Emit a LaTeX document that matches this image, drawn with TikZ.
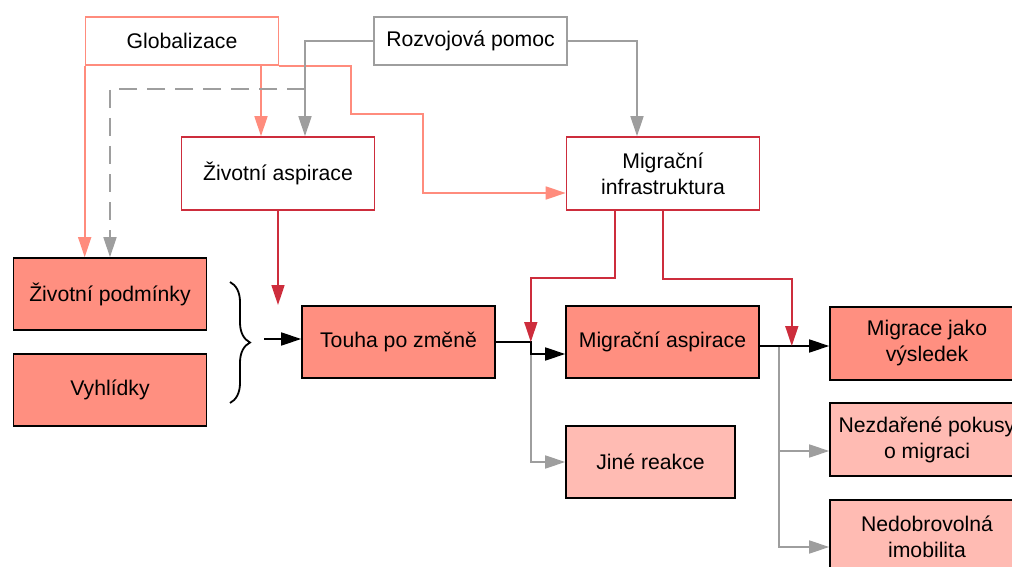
\documentclass[tikz,border=0pt]{standalone}
\usepackage{fontspec}
\setmainfont{Liberation Sans}
\usetikzlibrary{arrows.meta, decorations.pathreplacing}

\definecolor{salmonfill}{RGB}{255,143,128}
\definecolor{palefill}{RGB}{255,187,179}
\definecolor{crimsonline}{RGB}{205,45,60}
\definecolor{salmonline}{RGB}{255,140,125}
\definecolor{greyline}{RGB}{158,158,158}

\tikzset{
    box/.style={draw, line width=1.6pt, minimum width=193pt, minimum height=72pt,
        inner sep=0pt, align=center, font=\fontsize{21.2}{26}\selectfont},
    factor/.style={box, draw=black, fill=salmonfill},
    outcome/.style={box, draw=black, fill=palefill},
    driver/.style={box, draw=crimsonline, fill=white},
    source/.style={box, minimum height=48pt, fill=white},
    link/.style={line width=1.7pt, -{Triangle[length=20pt,width=13pt]}},
}

\begin{document}
\begin{tikzpicture}[x=1pt, y=-1pt]
        \useasboundingbox (0,0) rectangle (1012,567);
        \clip (0,0) rectangle (1012,567);
        % outer influences
        \node[source, draw=salmonline] (glob) at (182,41) {Globalizace};
        \node[source, draw=greyline] (rozv) at (470.5,41) {Rozvojová pomoc};
        \node[driver, minimum height=73pt] (zasp) at (278,173.5) {Životní aspirace};
        \node[driver, minimum height=73pt] (minf) at (663,173.5) {Migrační\\infrastruktura};
        % main chain
        \node[factor] (zpod) at (110,294) {Životní podmínky};
        \node[factor] (vyhl) at (110,390) {Vyhlídky};
        \node[factor] (touha) at (398.5,342) {Touha po změně};
        \node[factor] (masp) at (662.5,342) {Migrační aspirace};
        \node[outcome, minimum width=169pt] (jine) at (650.5,462) {Jiné reakce};
        \node[factor, minimum width=194pt, minimum height=73pt] (mvys) at (927,343.5) {Migrace jako\\výsledek};
        \node[outcome, minimum width=194pt, minimum height=73pt] (nezd) at (927,439.5) {Nezdařené pokusy\\o migraci};
        \node[outcome, minimum width=194pt, minimum height=73pt] (nedo) at (927,536.5) {Nedobrovolná\\imobilita};

        \coordinate (dsplit) at (305,89);
        \coordinate (tin) at (278,305);
        \coordinate (bin) at (264,339);
        \coordinate (j1) at ([xshift=35pt]touha.east);
        \coordinate (j2) at ([yshift=-4pt]masp.east);

        \draw[link, color=salmonline] (glob.south west) -- (glob.south west |- zpod.north);
        \draw[link, color=salmonline] ([xshift=-17pt]zasp.north |- glob.south) -- ([xshift=-17pt]zasp.north);
        \draw[link, color=salmonline] (glob.south east) -- ++(72,0) -- ++(0,48) -- ++(72,0)
            |- ([yshift=-19.5pt]minf.west); % zig-zag to infrastructure
        \draw[link, color=greyline] (rozv.west) -| ([xshift=27pt]zasp.north);
        \draw[link, color=greyline, dash pattern=on 18pt off 10pt] (dsplit) -| (zpod.north);
        \draw[link, color=greyline] (rozv.east) -| ([xshift=-26pt]minf.north);
        \draw[link, color=crimsonline] (zasp.south) -- (tin);

        \draw[line width=1.8pt, decorate, decoration={brace, amplitude=20pt}] (230,282) -- (230,403); % brace
        \draw[link] (bin) -- (bin -| touha.west);

        \draw[link, color=greyline] ([yshift=-12pt]j1) |- (jine.west);
        \draw[link] (touha.east) -- (j1) |- ([yshift=-12pt]masp.west);
        \draw[link, color=crimsonline] ([xshift=-48pt]minf.south) -- ++(0,67) -| (j1);

        \draw[link, color=greyline] ([xshift=19pt]j2) |- ([yshift=-11.5pt]nezd.west);
        \draw[link, color=greyline] ([xshift=19pt]j2) |- ([yshift=-10.5pt]nedo.west);
        \draw[link] (j2) -- (j2 -| mvys.west);
        \draw[link, color=crimsonline] (minf.south) -- ++(0,68) -| ([xshift=32pt]j2);
    \end{tikzpicture}
\end{document}
